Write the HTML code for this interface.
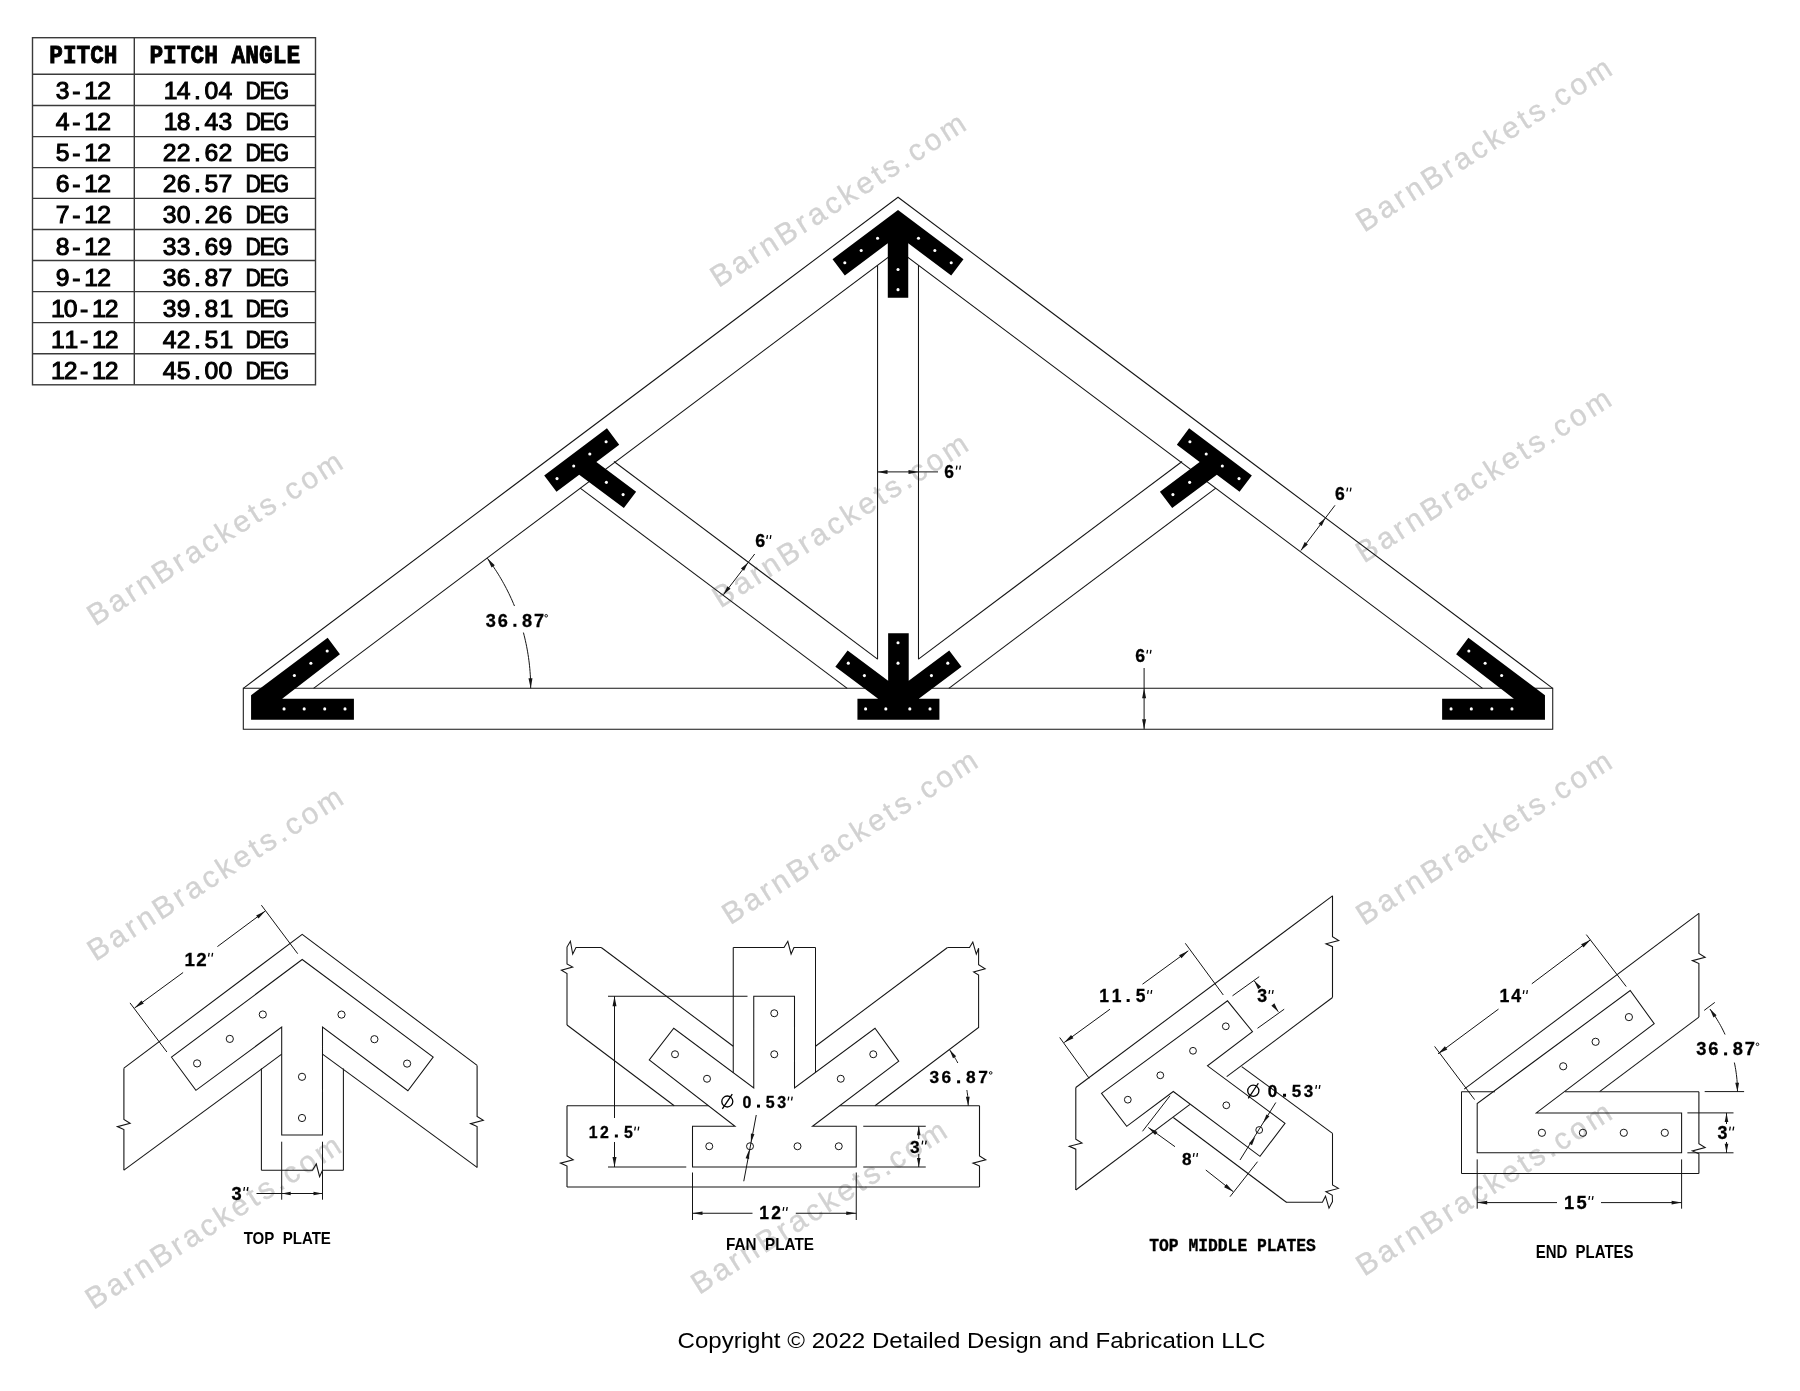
<!DOCTYPE html>
<html><head><meta charset="utf-8"><style>
html,body{margin:0;padding:0;background:#fff;width:1800px;height:1391px;overflow:hidden}
svg{display:block;font-family:"Liberation Sans",sans-serif;will-change:transform}
</style></head><body>
<svg width="1800" height="1391" viewBox="0 0 1800 1391">
<rect width="1800" height="1391" fill="#fff"/>
<g><text x="0" y="0" transform="translate(839.1,198.7) rotate(-32.5)" text-anchor="middle" dominant-baseline="central" font-family="Liberation Sans" font-size="30" letter-spacing="3.4" fill="#d2d2d2" stroke="#d2d2d2" stroke-width="0.35">BarnBrackets.com</text>
<text x="0" y="0" transform="translate(1485,143.35) rotate(-32.5)" text-anchor="middle" dominant-baseline="central" font-family="Liberation Sans" font-size="30" letter-spacing="3.4" fill="#d2d2d2" stroke="#d2d2d2" stroke-width="0.35">BarnBrackets.com</text>
<text x="0" y="0" transform="translate(215.85,537.1) rotate(-32.5)" text-anchor="middle" dominant-baseline="central" font-family="Liberation Sans" font-size="30" letter-spacing="3.4" fill="#d2d2d2" stroke="#d2d2d2" stroke-width="0.35">BarnBrackets.com</text>
<text x="0" y="0" transform="translate(841.25,519.2) rotate(-32.5)" text-anchor="middle" dominant-baseline="central" font-family="Liberation Sans" font-size="30" letter-spacing="3.4" fill="#d2d2d2" stroke="#d2d2d2" stroke-width="0.35">BarnBrackets.com</text>
<text x="0" y="0" transform="translate(1484.55,474.2) rotate(-32.5)" text-anchor="middle" dominant-baseline="central" font-family="Liberation Sans" font-size="30" letter-spacing="3.4" fill="#d2d2d2" stroke="#d2d2d2" stroke-width="0.35">BarnBrackets.com</text>
<text x="0" y="0" transform="translate(216.25,872.5) rotate(-32.5)" text-anchor="middle" dominant-baseline="central" font-family="Liberation Sans" font-size="30" letter-spacing="3.4" fill="#d2d2d2" stroke="#d2d2d2" stroke-width="0.35">BarnBrackets.com</text>
<text x="0" y="0" transform="translate(850.85,835.85) rotate(-32.5)" text-anchor="middle" dominant-baseline="central" font-family="Liberation Sans" font-size="30" letter-spacing="3.4" fill="#d2d2d2" stroke="#d2d2d2" stroke-width="0.35">BarnBrackets.com</text>
<text x="0" y="0" transform="translate(1485,836.65) rotate(-32.5)" text-anchor="middle" dominant-baseline="central" font-family="Liberation Sans" font-size="30" letter-spacing="3.4" fill="#d2d2d2" stroke="#d2d2d2" stroke-width="0.35">BarnBrackets.com</text>
<text x="0" y="0" transform="translate(214.15,1220.8) rotate(-32.5)" text-anchor="middle" dominant-baseline="central" font-family="Liberation Sans" font-size="30" letter-spacing="3.4" fill="#d2d2d2" stroke="#d2d2d2" stroke-width="0.35">BarnBrackets.com</text>
<text x="0" y="0" transform="translate(820,1205.8) rotate(-32.5)" text-anchor="middle" dominant-baseline="central" font-family="Liberation Sans" font-size="30" letter-spacing="3.4" fill="#d2d2d2" stroke="#d2d2d2" stroke-width="0.35">BarnBrackets.com</text>
<text x="0" y="0" transform="translate(1485,1187.5) rotate(-32.5)" text-anchor="middle" dominant-baseline="central" font-family="Liberation Sans" font-size="30" letter-spacing="3.4" fill="#d2d2d2" stroke="#d2d2d2" stroke-width="0.35">BarnBrackets.com</text></g>
<g><rect x="32.5" y="37.7" width="283" height="347.1" fill="none" stroke="#3a3a3a" stroke-width="1.4"/>
<line x1="134.3" y1="37.7" x2="134.3" y2="384.8" stroke="#3a3a3a" stroke-width="1.4"/>
<line x1="32.5" y1="74.2" x2="315.5" y2="74.2" stroke="#3a3a3a" stroke-width="1.4"/>
<line x1="32.5" y1="105.5" x2="315.5" y2="105.5" stroke="#3a3a3a" stroke-width="1.4"/>
<line x1="32.5" y1="136.6" x2="315.5" y2="136.6" stroke="#3a3a3a" stroke-width="1.4"/>
<line x1="32.5" y1="167.6" x2="315.5" y2="167.6" stroke="#3a3a3a" stroke-width="1.4"/>
<line x1="32.5" y1="198.4" x2="315.5" y2="198.4" stroke="#3a3a3a" stroke-width="1.4"/>
<line x1="32.5" y1="229.5" x2="315.5" y2="229.5" stroke="#3a3a3a" stroke-width="1.4"/>
<line x1="32.5" y1="260.5" x2="315.5" y2="260.5" stroke="#3a3a3a" stroke-width="1.4"/>
<line x1="32.5" y1="291.6" x2="315.5" y2="291.6" stroke="#3a3a3a" stroke-width="1.4"/>
<line x1="32.5" y1="322.6" x2="315.5" y2="322.6" stroke="#3a3a3a" stroke-width="1.4"/>
<line x1="32.5" y1="353.7" x2="315.5" y2="353.7" stroke="#3a3a3a" stroke-width="1.4"/>
<text x="49.3" y="63.3" font-family="Liberation Mono" font-weight="bold" font-size="25.2" textLength="68.2" lengthAdjust="spacingAndGlyphs" fill="#000" stroke="#000" stroke-width="0.9">PITCH</text>
<text x="149.4" y="63.3" font-family="Liberation Mono" font-weight="bold" font-size="25.2" textLength="150.7" lengthAdjust="spacingAndGlyphs" fill="#000" stroke="#000" stroke-width="0.9">PITCH ANGLE</text>
<text x="62.5" y="99.2" text-anchor="middle" font-family="Liberation Sans" font-weight="normal" font-size="24.71" fill="#000" stroke="#000" stroke-width="1.0">3</text>
<text x="76.4" y="99.2" text-anchor="middle" font-family="Liberation Sans" font-weight="normal" font-size="24.71" fill="#000" stroke="#000" stroke-width="1.0">-</text>
<text x="91.2" y="99.2" text-anchor="middle" font-family="Liberation Sans" font-weight="normal" font-size="24.71" fill="#000" stroke="#000" stroke-width="1.0">1</text>
<text x="104.2" y="99.2" text-anchor="middle" font-family="Liberation Sans" font-weight="normal" font-size="24.71" fill="#000" stroke="#000" stroke-width="1.0">2</text>
<text x="170.6" y="99.2" text-anchor="middle" font-family="Liberation Sans" font-weight="normal" font-size="24.71" fill="#000" stroke="#000" stroke-width="1.0">1</text>
<text x="183.63" y="99.2" text-anchor="middle" font-family="Liberation Sans" font-weight="normal" font-size="24.71" fill="#000" stroke="#000" stroke-width="1.0">4</text>
<text x="197.56" y="99.2" text-anchor="middle" font-family="Liberation Sans" font-weight="normal" font-size="24.71" fill="#000" stroke="#000" stroke-width="1.0">.</text>
<text x="211.49" y="99.2" text-anchor="middle" font-family="Liberation Sans" font-weight="normal" font-size="24.71" fill="#000" stroke="#000" stroke-width="1.0">0</text>
<text x="225.42" y="99.2" text-anchor="middle" font-family="Liberation Sans" font-weight="normal" font-size="24.71" fill="#000" stroke="#000" stroke-width="1.0">4</text>
<text x="245.53" y="99.2" font-family="Liberation Sans" font-weight="normal" font-size="24.71" fill="#000" stroke="#000" stroke-width="1.0" textLength="15.5" lengthAdjust="spacingAndGlyphs">D</text>
<text x="259.46" y="99.2" font-family="Liberation Sans" font-weight="normal" font-size="24.71" fill="#000" stroke="#000" stroke-width="1.0" textLength="15.5" lengthAdjust="spacingAndGlyphs">E</text>
<text x="273.39" y="99.2" font-family="Liberation Sans" font-weight="normal" font-size="24.71" fill="#000" stroke="#000" stroke-width="1.0" textLength="15.5" lengthAdjust="spacingAndGlyphs">G</text>
<text x="62.5" y="130.27" text-anchor="middle" font-family="Liberation Sans" font-weight="normal" font-size="24.71" fill="#000" stroke="#000" stroke-width="1.0">4</text>
<text x="76.4" y="130.27" text-anchor="middle" font-family="Liberation Sans" font-weight="normal" font-size="24.71" fill="#000" stroke="#000" stroke-width="1.0">-</text>
<text x="91.2" y="130.27" text-anchor="middle" font-family="Liberation Sans" font-weight="normal" font-size="24.71" fill="#000" stroke="#000" stroke-width="1.0">1</text>
<text x="104.2" y="130.27" text-anchor="middle" font-family="Liberation Sans" font-weight="normal" font-size="24.71" fill="#000" stroke="#000" stroke-width="1.0">2</text>
<text x="170.6" y="130.27" text-anchor="middle" font-family="Liberation Sans" font-weight="normal" font-size="24.71" fill="#000" stroke="#000" stroke-width="1.0">1</text>
<text x="183.63" y="130.27" text-anchor="middle" font-family="Liberation Sans" font-weight="normal" font-size="24.71" fill="#000" stroke="#000" stroke-width="1.0">8</text>
<text x="197.56" y="130.27" text-anchor="middle" font-family="Liberation Sans" font-weight="normal" font-size="24.71" fill="#000" stroke="#000" stroke-width="1.0">.</text>
<text x="211.49" y="130.27" text-anchor="middle" font-family="Liberation Sans" font-weight="normal" font-size="24.71" fill="#000" stroke="#000" stroke-width="1.0">4</text>
<text x="225.42" y="130.27" text-anchor="middle" font-family="Liberation Sans" font-weight="normal" font-size="24.71" fill="#000" stroke="#000" stroke-width="1.0">3</text>
<text x="245.53" y="130.27" font-family="Liberation Sans" font-weight="normal" font-size="24.71" fill="#000" stroke="#000" stroke-width="1.0" textLength="15.5" lengthAdjust="spacingAndGlyphs">D</text>
<text x="259.46" y="130.27" font-family="Liberation Sans" font-weight="normal" font-size="24.71" fill="#000" stroke="#000" stroke-width="1.0" textLength="15.5" lengthAdjust="spacingAndGlyphs">E</text>
<text x="273.39" y="130.27" font-family="Liberation Sans" font-weight="normal" font-size="24.71" fill="#000" stroke="#000" stroke-width="1.0" textLength="15.5" lengthAdjust="spacingAndGlyphs">G</text>
<text x="62.5" y="161.34" text-anchor="middle" font-family="Liberation Sans" font-weight="normal" font-size="24.71" fill="#000" stroke="#000" stroke-width="1.0">5</text>
<text x="76.4" y="161.34" text-anchor="middle" font-family="Liberation Sans" font-weight="normal" font-size="24.71" fill="#000" stroke="#000" stroke-width="1.0">-</text>
<text x="91.2" y="161.34" text-anchor="middle" font-family="Liberation Sans" font-weight="normal" font-size="24.71" fill="#000" stroke="#000" stroke-width="1.0">1</text>
<text x="104.2" y="161.34" text-anchor="middle" font-family="Liberation Sans" font-weight="normal" font-size="24.71" fill="#000" stroke="#000" stroke-width="1.0">2</text>
<text x="169.7" y="161.34" text-anchor="middle" font-family="Liberation Sans" font-weight="normal" font-size="24.71" fill="#000" stroke="#000" stroke-width="1.0">2</text>
<text x="183.63" y="161.34" text-anchor="middle" font-family="Liberation Sans" font-weight="normal" font-size="24.71" fill="#000" stroke="#000" stroke-width="1.0">2</text>
<text x="197.56" y="161.34" text-anchor="middle" font-family="Liberation Sans" font-weight="normal" font-size="24.71" fill="#000" stroke="#000" stroke-width="1.0">.</text>
<text x="211.49" y="161.34" text-anchor="middle" font-family="Liberation Sans" font-weight="normal" font-size="24.71" fill="#000" stroke="#000" stroke-width="1.0">6</text>
<text x="225.42" y="161.34" text-anchor="middle" font-family="Liberation Sans" font-weight="normal" font-size="24.71" fill="#000" stroke="#000" stroke-width="1.0">2</text>
<text x="245.53" y="161.34" font-family="Liberation Sans" font-weight="normal" font-size="24.71" fill="#000" stroke="#000" stroke-width="1.0" textLength="15.5" lengthAdjust="spacingAndGlyphs">D</text>
<text x="259.46" y="161.34" font-family="Liberation Sans" font-weight="normal" font-size="24.71" fill="#000" stroke="#000" stroke-width="1.0" textLength="15.5" lengthAdjust="spacingAndGlyphs">E</text>
<text x="273.39" y="161.34" font-family="Liberation Sans" font-weight="normal" font-size="24.71" fill="#000" stroke="#000" stroke-width="1.0" textLength="15.5" lengthAdjust="spacingAndGlyphs">G</text>
<text x="62.5" y="192.41" text-anchor="middle" font-family="Liberation Sans" font-weight="normal" font-size="24.71" fill="#000" stroke="#000" stroke-width="1.0">6</text>
<text x="76.4" y="192.41" text-anchor="middle" font-family="Liberation Sans" font-weight="normal" font-size="24.71" fill="#000" stroke="#000" stroke-width="1.0">-</text>
<text x="91.2" y="192.41" text-anchor="middle" font-family="Liberation Sans" font-weight="normal" font-size="24.71" fill="#000" stroke="#000" stroke-width="1.0">1</text>
<text x="104.2" y="192.41" text-anchor="middle" font-family="Liberation Sans" font-weight="normal" font-size="24.71" fill="#000" stroke="#000" stroke-width="1.0">2</text>
<text x="169.7" y="192.41" text-anchor="middle" font-family="Liberation Sans" font-weight="normal" font-size="24.71" fill="#000" stroke="#000" stroke-width="1.0">2</text>
<text x="183.63" y="192.41" text-anchor="middle" font-family="Liberation Sans" font-weight="normal" font-size="24.71" fill="#000" stroke="#000" stroke-width="1.0">6</text>
<text x="197.56" y="192.41" text-anchor="middle" font-family="Liberation Sans" font-weight="normal" font-size="24.71" fill="#000" stroke="#000" stroke-width="1.0">.</text>
<text x="211.49" y="192.41" text-anchor="middle" font-family="Liberation Sans" font-weight="normal" font-size="24.71" fill="#000" stroke="#000" stroke-width="1.0">5</text>
<text x="225.42" y="192.41" text-anchor="middle" font-family="Liberation Sans" font-weight="normal" font-size="24.71" fill="#000" stroke="#000" stroke-width="1.0">7</text>
<text x="245.53" y="192.41" font-family="Liberation Sans" font-weight="normal" font-size="24.71" fill="#000" stroke="#000" stroke-width="1.0" textLength="15.5" lengthAdjust="spacingAndGlyphs">D</text>
<text x="259.46" y="192.41" font-family="Liberation Sans" font-weight="normal" font-size="24.71" fill="#000" stroke="#000" stroke-width="1.0" textLength="15.5" lengthAdjust="spacingAndGlyphs">E</text>
<text x="273.39" y="192.41" font-family="Liberation Sans" font-weight="normal" font-size="24.71" fill="#000" stroke="#000" stroke-width="1.0" textLength="15.5" lengthAdjust="spacingAndGlyphs">G</text>
<text x="62.5" y="223.48" text-anchor="middle" font-family="Liberation Sans" font-weight="normal" font-size="24.71" fill="#000" stroke="#000" stroke-width="1.0">7</text>
<text x="76.4" y="223.48" text-anchor="middle" font-family="Liberation Sans" font-weight="normal" font-size="24.71" fill="#000" stroke="#000" stroke-width="1.0">-</text>
<text x="91.2" y="223.48" text-anchor="middle" font-family="Liberation Sans" font-weight="normal" font-size="24.71" fill="#000" stroke="#000" stroke-width="1.0">1</text>
<text x="104.2" y="223.48" text-anchor="middle" font-family="Liberation Sans" font-weight="normal" font-size="24.71" fill="#000" stroke="#000" stroke-width="1.0">2</text>
<text x="169.7" y="223.48" text-anchor="middle" font-family="Liberation Sans" font-weight="normal" font-size="24.71" fill="#000" stroke="#000" stroke-width="1.0">3</text>
<text x="183.63" y="223.48" text-anchor="middle" font-family="Liberation Sans" font-weight="normal" font-size="24.71" fill="#000" stroke="#000" stroke-width="1.0">0</text>
<text x="197.56" y="223.48" text-anchor="middle" font-family="Liberation Sans" font-weight="normal" font-size="24.71" fill="#000" stroke="#000" stroke-width="1.0">.</text>
<text x="211.49" y="223.48" text-anchor="middle" font-family="Liberation Sans" font-weight="normal" font-size="24.71" fill="#000" stroke="#000" stroke-width="1.0">2</text>
<text x="225.42" y="223.48" text-anchor="middle" font-family="Liberation Sans" font-weight="normal" font-size="24.71" fill="#000" stroke="#000" stroke-width="1.0">6</text>
<text x="245.53" y="223.48" font-family="Liberation Sans" font-weight="normal" font-size="24.71" fill="#000" stroke="#000" stroke-width="1.0" textLength="15.5" lengthAdjust="spacingAndGlyphs">D</text>
<text x="259.46" y="223.48" font-family="Liberation Sans" font-weight="normal" font-size="24.71" fill="#000" stroke="#000" stroke-width="1.0" textLength="15.5" lengthAdjust="spacingAndGlyphs">E</text>
<text x="273.39" y="223.48" font-family="Liberation Sans" font-weight="normal" font-size="24.71" fill="#000" stroke="#000" stroke-width="1.0" textLength="15.5" lengthAdjust="spacingAndGlyphs">G</text>
<text x="62.5" y="254.55" text-anchor="middle" font-family="Liberation Sans" font-weight="normal" font-size="24.71" fill="#000" stroke="#000" stroke-width="1.0">8</text>
<text x="76.4" y="254.55" text-anchor="middle" font-family="Liberation Sans" font-weight="normal" font-size="24.71" fill="#000" stroke="#000" stroke-width="1.0">-</text>
<text x="91.2" y="254.55" text-anchor="middle" font-family="Liberation Sans" font-weight="normal" font-size="24.71" fill="#000" stroke="#000" stroke-width="1.0">1</text>
<text x="104.2" y="254.55" text-anchor="middle" font-family="Liberation Sans" font-weight="normal" font-size="24.71" fill="#000" stroke="#000" stroke-width="1.0">2</text>
<text x="169.7" y="254.55" text-anchor="middle" font-family="Liberation Sans" font-weight="normal" font-size="24.71" fill="#000" stroke="#000" stroke-width="1.0">3</text>
<text x="183.63" y="254.55" text-anchor="middle" font-family="Liberation Sans" font-weight="normal" font-size="24.71" fill="#000" stroke="#000" stroke-width="1.0">3</text>
<text x="197.56" y="254.55" text-anchor="middle" font-family="Liberation Sans" font-weight="normal" font-size="24.71" fill="#000" stroke="#000" stroke-width="1.0">.</text>
<text x="211.49" y="254.55" text-anchor="middle" font-family="Liberation Sans" font-weight="normal" font-size="24.71" fill="#000" stroke="#000" stroke-width="1.0">6</text>
<text x="225.42" y="254.55" text-anchor="middle" font-family="Liberation Sans" font-weight="normal" font-size="24.71" fill="#000" stroke="#000" stroke-width="1.0">9</text>
<text x="245.53" y="254.55" font-family="Liberation Sans" font-weight="normal" font-size="24.71" fill="#000" stroke="#000" stroke-width="1.0" textLength="15.5" lengthAdjust="spacingAndGlyphs">D</text>
<text x="259.46" y="254.55" font-family="Liberation Sans" font-weight="normal" font-size="24.71" fill="#000" stroke="#000" stroke-width="1.0" textLength="15.5" lengthAdjust="spacingAndGlyphs">E</text>
<text x="273.39" y="254.55" font-family="Liberation Sans" font-weight="normal" font-size="24.71" fill="#000" stroke="#000" stroke-width="1.0" textLength="15.5" lengthAdjust="spacingAndGlyphs">G</text>
<text x="62.5" y="285.62" text-anchor="middle" font-family="Liberation Sans" font-weight="normal" font-size="24.71" fill="#000" stroke="#000" stroke-width="1.0">9</text>
<text x="76.4" y="285.62" text-anchor="middle" font-family="Liberation Sans" font-weight="normal" font-size="24.71" fill="#000" stroke="#000" stroke-width="1.0">-</text>
<text x="91.2" y="285.62" text-anchor="middle" font-family="Liberation Sans" font-weight="normal" font-size="24.71" fill="#000" stroke="#000" stroke-width="1.0">1</text>
<text x="104.2" y="285.62" text-anchor="middle" font-family="Liberation Sans" font-weight="normal" font-size="24.71" fill="#000" stroke="#000" stroke-width="1.0">2</text>
<text x="169.7" y="285.62" text-anchor="middle" font-family="Liberation Sans" font-weight="normal" font-size="24.71" fill="#000" stroke="#000" stroke-width="1.0">3</text>
<text x="183.63" y="285.62" text-anchor="middle" font-family="Liberation Sans" font-weight="normal" font-size="24.71" fill="#000" stroke="#000" stroke-width="1.0">6</text>
<text x="197.56" y="285.62" text-anchor="middle" font-family="Liberation Sans" font-weight="normal" font-size="24.71" fill="#000" stroke="#000" stroke-width="1.0">.</text>
<text x="211.49" y="285.62" text-anchor="middle" font-family="Liberation Sans" font-weight="normal" font-size="24.71" fill="#000" stroke="#000" stroke-width="1.0">8</text>
<text x="225.42" y="285.62" text-anchor="middle" font-family="Liberation Sans" font-weight="normal" font-size="24.71" fill="#000" stroke="#000" stroke-width="1.0">7</text>
<text x="245.53" y="285.62" font-family="Liberation Sans" font-weight="normal" font-size="24.71" fill="#000" stroke="#000" stroke-width="1.0" textLength="15.5" lengthAdjust="spacingAndGlyphs">D</text>
<text x="259.46" y="285.62" font-family="Liberation Sans" font-weight="normal" font-size="24.71" fill="#000" stroke="#000" stroke-width="1.0" textLength="15.5" lengthAdjust="spacingAndGlyphs">E</text>
<text x="273.39" y="285.62" font-family="Liberation Sans" font-weight="normal" font-size="24.71" fill="#000" stroke="#000" stroke-width="1.0" textLength="15.5" lengthAdjust="spacingAndGlyphs">G</text>
<text x="57.8" y="316.69" text-anchor="middle" font-family="Liberation Sans" font-weight="normal" font-size="24.71" fill="#000" stroke="#000" stroke-width="1.0">1</text>
<text x="70.55" y="316.69" text-anchor="middle" font-family="Liberation Sans" font-weight="normal" font-size="24.71" fill="#000" stroke="#000" stroke-width="1.0">0</text>
<text x="84.2" y="316.69" text-anchor="middle" font-family="Liberation Sans" font-weight="normal" font-size="24.71" fill="#000" stroke="#000" stroke-width="1.0">-</text>
<text x="98.75" y="316.69" text-anchor="middle" font-family="Liberation Sans" font-weight="normal" font-size="24.71" fill="#000" stroke="#000" stroke-width="1.0">1</text>
<text x="111.5" y="316.69" text-anchor="middle" font-family="Liberation Sans" font-weight="normal" font-size="24.71" fill="#000" stroke="#000" stroke-width="1.0">2</text>
<text x="169.7" y="316.69" text-anchor="middle" font-family="Liberation Sans" font-weight="normal" font-size="24.71" fill="#000" stroke="#000" stroke-width="1.0">3</text>
<text x="183.63" y="316.69" text-anchor="middle" font-family="Liberation Sans" font-weight="normal" font-size="24.71" fill="#000" stroke="#000" stroke-width="1.0">9</text>
<text x="197.56" y="316.69" text-anchor="middle" font-family="Liberation Sans" font-weight="normal" font-size="24.71" fill="#000" stroke="#000" stroke-width="1.0">.</text>
<text x="211.49" y="316.69" text-anchor="middle" font-family="Liberation Sans" font-weight="normal" font-size="24.71" fill="#000" stroke="#000" stroke-width="1.0">8</text>
<text x="226.32" y="316.69" text-anchor="middle" font-family="Liberation Sans" font-weight="normal" font-size="24.71" fill="#000" stroke="#000" stroke-width="1.0">1</text>
<text x="245.53" y="316.69" font-family="Liberation Sans" font-weight="normal" font-size="24.71" fill="#000" stroke="#000" stroke-width="1.0" textLength="15.5" lengthAdjust="spacingAndGlyphs">D</text>
<text x="259.46" y="316.69" font-family="Liberation Sans" font-weight="normal" font-size="24.71" fill="#000" stroke="#000" stroke-width="1.0" textLength="15.5" lengthAdjust="spacingAndGlyphs">E</text>
<text x="273.39" y="316.69" font-family="Liberation Sans" font-weight="normal" font-size="24.71" fill="#000" stroke="#000" stroke-width="1.0" textLength="15.5" lengthAdjust="spacingAndGlyphs">G</text>
<text x="57.8" y="347.76" text-anchor="middle" font-family="Liberation Sans" font-weight="normal" font-size="24.71" fill="#000" stroke="#000" stroke-width="1.0">1</text>
<text x="71.45" y="347.76" text-anchor="middle" font-family="Liberation Sans" font-weight="normal" font-size="24.71" fill="#000" stroke="#000" stroke-width="1.0">1</text>
<text x="84.2" y="347.76" text-anchor="middle" font-family="Liberation Sans" font-weight="normal" font-size="24.71" fill="#000" stroke="#000" stroke-width="1.0">-</text>
<text x="98.75" y="347.76" text-anchor="middle" font-family="Liberation Sans" font-weight="normal" font-size="24.71" fill="#000" stroke="#000" stroke-width="1.0">1</text>
<text x="111.5" y="347.76" text-anchor="middle" font-family="Liberation Sans" font-weight="normal" font-size="24.71" fill="#000" stroke="#000" stroke-width="1.0">2</text>
<text x="169.7" y="347.76" text-anchor="middle" font-family="Liberation Sans" font-weight="normal" font-size="24.71" fill="#000" stroke="#000" stroke-width="1.0">4</text>
<text x="183.63" y="347.76" text-anchor="middle" font-family="Liberation Sans" font-weight="normal" font-size="24.71" fill="#000" stroke="#000" stroke-width="1.0">2</text>
<text x="197.56" y="347.76" text-anchor="middle" font-family="Liberation Sans" font-weight="normal" font-size="24.71" fill="#000" stroke="#000" stroke-width="1.0">.</text>
<text x="211.49" y="347.76" text-anchor="middle" font-family="Liberation Sans" font-weight="normal" font-size="24.71" fill="#000" stroke="#000" stroke-width="1.0">5</text>
<text x="226.32" y="347.76" text-anchor="middle" font-family="Liberation Sans" font-weight="normal" font-size="24.71" fill="#000" stroke="#000" stroke-width="1.0">1</text>
<text x="245.53" y="347.76" font-family="Liberation Sans" font-weight="normal" font-size="24.71" fill="#000" stroke="#000" stroke-width="1.0" textLength="15.5" lengthAdjust="spacingAndGlyphs">D</text>
<text x="259.46" y="347.76" font-family="Liberation Sans" font-weight="normal" font-size="24.71" fill="#000" stroke="#000" stroke-width="1.0" textLength="15.5" lengthAdjust="spacingAndGlyphs">E</text>
<text x="273.39" y="347.76" font-family="Liberation Sans" font-weight="normal" font-size="24.71" fill="#000" stroke="#000" stroke-width="1.0" textLength="15.5" lengthAdjust="spacingAndGlyphs">G</text>
<text x="57.8" y="378.83" text-anchor="middle" font-family="Liberation Sans" font-weight="normal" font-size="24.71" fill="#000" stroke="#000" stroke-width="1.0">1</text>
<text x="70.55" y="378.83" text-anchor="middle" font-family="Liberation Sans" font-weight="normal" font-size="24.71" fill="#000" stroke="#000" stroke-width="1.0">2</text>
<text x="84.2" y="378.83" text-anchor="middle" font-family="Liberation Sans" font-weight="normal" font-size="24.71" fill="#000" stroke="#000" stroke-width="1.0">-</text>
<text x="98.75" y="378.83" text-anchor="middle" font-family="Liberation Sans" font-weight="normal" font-size="24.71" fill="#000" stroke="#000" stroke-width="1.0">1</text>
<text x="111.5" y="378.83" text-anchor="middle" font-family="Liberation Sans" font-weight="normal" font-size="24.71" fill="#000" stroke="#000" stroke-width="1.0">2</text>
<text x="169.7" y="378.83" text-anchor="middle" font-family="Liberation Sans" font-weight="normal" font-size="24.71" fill="#000" stroke="#000" stroke-width="1.0">4</text>
<text x="183.63" y="378.83" text-anchor="middle" font-family="Liberation Sans" font-weight="normal" font-size="24.71" fill="#000" stroke="#000" stroke-width="1.0">5</text>
<text x="197.56" y="378.83" text-anchor="middle" font-family="Liberation Sans" font-weight="normal" font-size="24.71" fill="#000" stroke="#000" stroke-width="1.0">.</text>
<text x="211.49" y="378.83" text-anchor="middle" font-family="Liberation Sans" font-weight="normal" font-size="24.71" fill="#000" stroke="#000" stroke-width="1.0">0</text>
<text x="225.42" y="378.83" text-anchor="middle" font-family="Liberation Sans" font-weight="normal" font-size="24.71" fill="#000" stroke="#000" stroke-width="1.0">0</text>
<text x="245.53" y="378.83" font-family="Liberation Sans" font-weight="normal" font-size="24.71" fill="#000" stroke="#000" stroke-width="1.0" textLength="15.5" lengthAdjust="spacingAndGlyphs">D</text>
<text x="259.46" y="378.83" font-family="Liberation Sans" font-weight="normal" font-size="24.71" fill="#000" stroke="#000" stroke-width="1.0" textLength="15.5" lengthAdjust="spacingAndGlyphs">E</text>
<text x="273.39" y="378.83" font-family="Liberation Sans" font-weight="normal" font-size="24.71" fill="#000" stroke="#000" stroke-width="1.0" textLength="15.5" lengthAdjust="spacingAndGlyphs">G</text>
<polygon points="243.3,688.3 1552.74,688.3 1552.74,729.22 243.3,729.22" fill="none" stroke="#151515" stroke-width="1.05" stroke-linejoin="miter"/>
<polyline points="243.3,688.3 898.02,197.26 1552.74,688.3" fill="none" stroke="#151515" stroke-width="1.05" stroke-linejoin="miter"/>
<polyline points="313.55,688.3 898.02,249.94 1482.49,688.3" fill="none" stroke="#151515" stroke-width="1.05" stroke-linejoin="miter"/>
<line x1="877.56" y1="265.29" x2="877.56" y2="659.14" stroke="#151515" stroke-width="1.05"/>
<line x1="918.48" y1="265.29" x2="918.48" y2="659.14" stroke="#151515" stroke-width="1.05"/>
<line x1="847.21" y1="688.3" x2="580.21" y2="488.06" stroke="#151515" stroke-width="1.05"/>
<line x1="877.56" y1="659.14" x2="613.97" y2="461.47" stroke="#151515" stroke-width="1.05"/>
<line x1="948.83" y1="688.3" x2="1215.83" y2="488.06" stroke="#151515" stroke-width="1.05"/>
<line x1="918.48" y1="659.14" x2="1182.07" y2="461.47" stroke="#151515" stroke-width="1.05"/>
<polygon points="898.02,210.05 832.55,259.15 844.82,275.52 887.79,243.29 887.79,297.85 908.25,297.85 908.25,243.29 951.22,275.52 963.49,259.15" fill="#000"/>
<polygon points="544.2,475.41 606.94,428.36 619.22,444.72 596.37,461.88 636.13,491.68 623.86,508.05 579.18,474.77 556.47,491.78" fill="#000"/>
<polygon points="1251.84,475.41 1189.1,428.36 1176.82,444.72 1199.67,461.88 1159.91,491.68 1172.18,508.05 1216.86,474.77 1239.57,491.78" fill="#000"/>
<polygon points="888.13,633.33 908.73,633.33 908.73,680.8 949.24,650.45 961.51,666.82 918.75,698.87 939.42,698.87 939.42,719.67 857.44,719.67 857.44,698.87 878.11,698.87 835.34,666.82 847.62,650.45 888.13,680.8" fill="#000"/>
<polygon points="251.07,719.67 353.92,719.67 353.92,698.87 282.17,698.87 339.94,654.2 327.66,637.83 251.07,695.26" fill="#000"/>
<polygon points="1544.97,719.67 1442.12,719.67 1442.12,698.87 1513.87,698.87 1456.1,654.2 1468.38,637.83 1544.97,695.26" fill="#000"/>
<circle cx="877.56" cy="238.18" r="1.55" fill="#fff" stroke="none" stroke-width="1.0"/>
<circle cx="861.19" cy="250.46" r="1.55" fill="#fff" stroke="none" stroke-width="1.0"/>
<circle cx="844.82" cy="262.73" r="1.55" fill="#fff" stroke="none" stroke-width="1.0"/>
<circle cx="898.02" cy="269.55" r="1.55" fill="#fff" stroke="none" stroke-width="1.0"/>
<circle cx="898.02" cy="289.67" r="1.55" fill="#fff" stroke="none" stroke-width="1.0"/>
<circle cx="918.48" cy="238.18" r="1.55" fill="#fff" stroke="none" stroke-width="1.0"/>
<circle cx="934.85" cy="250.46" r="1.55" fill="#fff" stroke="none" stroke-width="1.0"/>
<circle cx="951.22" cy="262.73" r="1.55" fill="#fff" stroke="none" stroke-width="1.0"/>
<circle cx="557.02" cy="478.58" r="1.55" fill="#fff" stroke="none" stroke-width="1.0"/>
<circle cx="573.73" cy="466.04" r="1.55" fill="#fff" stroke="none" stroke-width="1.0"/>
<circle cx="589.82" cy="453.96" r="1.55" fill="#fff" stroke="none" stroke-width="1.0"/>
<circle cx="606.12" cy="441.76" r="1.55" fill="#fff" stroke="none" stroke-width="1.0"/>
<circle cx="606.4" cy="482.34" r="1.55" fill="#fff" stroke="none" stroke-width="1.0"/>
<circle cx="623.11" cy="494.61" r="1.55" fill="#fff" stroke="none" stroke-width="1.0"/>
<circle cx="1239.02" cy="478.58" r="1.55" fill="#fff" stroke="none" stroke-width="1.0"/>
<circle cx="1222.31" cy="466.04" r="1.55" fill="#fff" stroke="none" stroke-width="1.0"/>
<circle cx="1206.22" cy="453.96" r="1.55" fill="#fff" stroke="none" stroke-width="1.0"/>
<circle cx="1189.92" cy="441.76" r="1.55" fill="#fff" stroke="none" stroke-width="1.0"/>
<circle cx="1189.64" cy="482.34" r="1.55" fill="#fff" stroke="none" stroke-width="1.0"/>
<circle cx="1172.93" cy="494.61" r="1.55" fill="#fff" stroke="none" stroke-width="1.0"/>
<circle cx="898.02" cy="642.81" r="1.55" fill="#fff" stroke="none" stroke-width="1.0"/>
<circle cx="898.02" cy="663.13" r="1.55" fill="#fff" stroke="none" stroke-width="1.0"/>
<circle cx="848.3" cy="663.13" r="1.55" fill="#fff" stroke="none" stroke-width="1.0"/>
<circle cx="864.4" cy="675.61" r="1.55" fill="#fff" stroke="none" stroke-width="1.0"/>
<circle cx="947.81" cy="663.13" r="1.55" fill="#fff" stroke="none" stroke-width="1.0"/>
<circle cx="931.44" cy="675.61" r="1.55" fill="#fff" stroke="none" stroke-width="1.0"/>
<circle cx="865.62" cy="708.9" r="1.55" fill="#fff" stroke="none" stroke-width="1.0"/>
<circle cx="885.81" cy="708.9" r="1.55" fill="#fff" stroke="none" stroke-width="1.0"/>
<circle cx="909.82" cy="708.9" r="1.55" fill="#fff" stroke="none" stroke-width="1.0"/>
<circle cx="930.01" cy="708.9" r="1.55" fill="#fff" stroke="none" stroke-width="1.0"/>
<circle cx="284.08" cy="708.9" r="1.55" fill="#fff" stroke="none" stroke-width="1.0"/>
<circle cx="304.2" cy="708.9" r="1.55" fill="#fff" stroke="none" stroke-width="1.0"/>
<circle cx="324.73" cy="708.9" r="1.55" fill="#fff" stroke="none" stroke-width="1.0"/>
<circle cx="344.99" cy="708.9" r="1.55" fill="#fff" stroke="none" stroke-width="1.0"/>
<circle cx="294.38" cy="675.55" r="1.55" fill="#fff" stroke="none" stroke-width="1.0"/>
<circle cx="310.89" cy="663.2" r="1.55" fill="#fff" stroke="none" stroke-width="1.0"/>
<circle cx="327.19" cy="650.96" r="1.55" fill="#fff" stroke="none" stroke-width="1.0"/>
<circle cx="1511.96" cy="708.9" r="1.55" fill="#fff" stroke="none" stroke-width="1.0"/>
<circle cx="1491.84" cy="708.9" r="1.55" fill="#fff" stroke="none" stroke-width="1.0"/>
<circle cx="1471.31" cy="708.9" r="1.55" fill="#fff" stroke="none" stroke-width="1.0"/>
<circle cx="1451.05" cy="708.9" r="1.55" fill="#fff" stroke="none" stroke-width="1.0"/>
<circle cx="1501.66" cy="675.55" r="1.55" fill="#fff" stroke="none" stroke-width="1.0"/>
<circle cx="1485.15" cy="663.2" r="1.55" fill="#fff" stroke="none" stroke-width="1.0"/>
<circle cx="1468.85" cy="650.96" r="1.55" fill="#fff" stroke="none" stroke-width="1.0"/>
<line x1="877.5" y1="471.9" x2="938" y2="471.9" stroke="#151515" stroke-width="1.0"/>
<polygon points="877.5,471.9 887.5,469.9 887.5,473.9" fill="#151515"/>
<polygon points="918.5,471.9 908.5,473.9 908.5,469.9" fill="#151515"/>
<text x="949.2" y="477.7" text-anchor="middle" font-family="Liberation Sans" font-weight="bold" font-size="17.44" fill="#000" stroke="#000" stroke-width="0.3">6</text>
<line x1="956.3" y1="469.6" x2="957" y2="465.7" stroke="#000" stroke-width="1.3"/>
<line x1="959.7" y1="469.6" x2="960.4" y2="465.7" stroke="#000" stroke-width="1.3"/>
<line x1="723.5" y1="594.6" x2="754.7" y2="554" stroke="#151515" stroke-width="1.0"/>
<polygon points="723.5,594.6 727.4,586.25 730.57,588.69" fill="#151515"/>
<polygon points="748,562.5 744.1,570.85 740.93,568.41" fill="#151515"/>
<text x="760.1" y="547.4" text-anchor="middle" font-family="Liberation Sans" font-weight="bold" font-size="17.88" fill="#000" stroke="#000" stroke-width="0.3">6</text>
<line x1="766.8" y1="539" x2="767.5" y2="535.1" stroke="#000" stroke-width="1.3"/>
<line x1="770.2" y1="539" x2="770.9" y2="535.1" stroke="#000" stroke-width="1.3"/>
<line x1="1300.9" y1="550.5" x2="1335" y2="505.3" stroke="#151515" stroke-width="1.0"/>
<polygon points="1300.9,550.5 1304.7,542.1 1307.9,544.5" fill="#151515"/>
<polygon points="1325.5,517.7 1321.7,526.1 1318.5,523.7" fill="#151515"/>
<text x="1339.8" y="499.7" text-anchor="middle" font-family="Liberation Sans" font-weight="bold" font-size="17.59" fill="#000" stroke="#000" stroke-width="0.3">6</text>
<line x1="1346.9" y1="491.5" x2="1347.6" y2="487.6" stroke="#000" stroke-width="1.3"/>
<line x1="1350.3" y1="491.5" x2="1351" y2="487.6" stroke="#000" stroke-width="1.3"/>
<line x1="1144.1" y1="668" x2="1144.1" y2="729.2" stroke="#151515" stroke-width="1.0"/>
<polygon points="1144.1,688.3 1146.1,698.3 1142.1,698.3" fill="#151515"/>
<polygon points="1144.1,729.2 1142.1,719.2 1146.1,719.2" fill="#151515"/>
<text x="1140.3" y="662" text-anchor="middle" font-family="Liberation Sans" font-weight="bold" font-size="17.73" fill="#000" stroke="#000" stroke-width="0.3">6</text>
<line x1="1146.9" y1="653.7" x2="1147.6" y2="649.8" stroke="#000" stroke-width="1.3"/>
<line x1="1150.3" y1="653.7" x2="1151" y2="649.8" stroke="#000" stroke-width="1.3"/>
<polyline points="530.7,688.3 530.68,685.48 530.63,682.66 530.54,679.85 530.41,677.03 530.24,674.21 530.04,671.4 529.8,668.59 529.53,665.79 529.22,662.99 528.87,660.19 528.49,657.4 528.07,654.61 527.61,651.83 527.12,649.05 526.59,646.28 526.03,643.52 525.42,640.77 524.79,638.02 524.12,635.28 523.41,632.55" fill="none" stroke="#151515" stroke-width="1.0" stroke-linejoin="miter"/>
<polyline points="514.49,606.03 513.42,603.49 512.33,600.96 511.2,598.44 510.04,595.94 508.85,593.46 507.63,590.99 506.38,588.53 505.1,586.09 503.78,583.67 502.43,581.26 501.06,578.87 499.65,576.5 498.22,574.15 496.75,571.82 495.25,569.5 493.73,567.21 492.17,564.93 490.59,562.67 488.98,560.44 487.34,558.22" fill="none" stroke="#151515" stroke-width="1.0" stroke-linejoin="miter"/>
<polygon points="487.34,558.22 494.79,565.19 491.53,567.52" fill="#151515"/>
<polygon points="530.7,688.3 528.47,678.35 532.47,678.26" fill="#151515"/>
<text x="490.7" y="626.8" text-anchor="middle" font-family="Liberation Sans" font-weight="bold" font-size="18.17" fill="#000" stroke="#000" stroke-width="0.3">3</text>
<text x="502.8" y="626.8" text-anchor="middle" font-family="Liberation Sans" font-weight="bold" font-size="18.17" fill="#000" stroke="#000" stroke-width="0.3">6</text>
<rect x="513.4" y="623.8" width="3" height="3" fill="#000"/>
<text x="527" y="626.8" text-anchor="middle" font-family="Liberation Sans" font-weight="bold" font-size="18.17" fill="#000" stroke="#000" stroke-width="0.3">8</text>
<text x="539.1" y="626.8" text-anchor="middle" font-family="Liberation Sans" font-weight="bold" font-size="18.17" fill="#000" stroke="#000" stroke-width="0.3">7</text>
<circle cx="546.2" cy="615.8" r="1.3" fill="none" stroke="#000" stroke-width="0.9"/>
<polyline points="123.9,1068.2 302.2,934.3 477.1,1065.4" fill="none" stroke="#151515" stroke-width="1.05" stroke-linejoin="miter"/>
<polyline points="123.9,1068.2 123.9,1119.5 130.1,1123.3 117.4,1126.6 123.9,1129.5 123.9,1170.2" fill="none" stroke="#151515" stroke-width="1.1" stroke-linejoin="miter"/>
<polyline points="477.1,1065.4 477.1,1116.5 483.3,1120.3 470.6,1123.6 477.1,1126.5 477.1,1167.4" fill="none" stroke="#151515" stroke-width="1.1" stroke-linejoin="miter"/>
<line x1="123.9" y1="1170.2" x2="281.7" y2="1054.2" stroke="#151515" stroke-width="1.05"/>
<line x1="322.5" y1="1054.2" x2="477.1" y2="1167.4" stroke="#151515" stroke-width="1.05"/>
<line x1="261.4" y1="1068.6" x2="261.4" y2="1170.2" stroke="#151515" stroke-width="1.05"/>
<line x1="343.4" y1="1068.6" x2="343.4" y2="1170.2" stroke="#151515" stroke-width="1.05"/>
<polyline points="261.4,1170.2 312.5,1170.2 316.3,1164 319.6,1176.7 322.5,1170.2 343.4,1170.2" fill="none" stroke="#151515" stroke-width="1.1" stroke-linejoin="miter"/>
<polygon points="302.2,959.5 433.2,1057 407.9,1090.7 322.5,1027.1 322.5,1135 281.7,1135 281.7,1027.1 195.9,1090.3 171.5,1057.2" fill="none" stroke="#151515" stroke-width="1.05" stroke-linejoin="miter"/>
<circle cx="197.1" cy="1063.4" r="3.6" fill="none" stroke="#151515" stroke-width="1.0"/>
<circle cx="229.8" cy="1038.9" r="3.6" fill="none" stroke="#151515" stroke-width="1.0"/>
<circle cx="262.8" cy="1014.5" r="3.6" fill="none" stroke="#151515" stroke-width="1.0"/>
<circle cx="341.5" cy="1014.6" r="3.6" fill="none" stroke="#151515" stroke-width="1.0"/>
<circle cx="374.4" cy="1039.2" r="3.6" fill="none" stroke="#151515" stroke-width="1.0"/>
<circle cx="407.1" cy="1063.6" r="3.6" fill="none" stroke="#151515" stroke-width="1.0"/>
<circle cx="302" cy="1076.8" r="3.6" fill="none" stroke="#151515" stroke-width="1.0"/>
<circle cx="302" cy="1118" r="3.6" fill="none" stroke="#151515" stroke-width="1.0"/>
<line x1="130" y1="1002.9" x2="166.9" y2="1052" stroke="#151515" stroke-width="1.0"/>
<line x1="261.4" y1="905.2" x2="297.7" y2="953.7" stroke="#151515" stroke-width="1.0"/>
<line x1="134.6" y1="1008" x2="183.1" y2="972.5" stroke="#151515" stroke-width="1.0"/>
<line x1="217.4" y1="946.6" x2="265.3" y2="911" stroke="#151515" stroke-width="1.0"/>
<polygon points="134.6,1008 141.4,1000.4 143.8,1003.6" fill="#151515"/>
<polygon points="265.3,911 258.5,918.6 256.1,915.4" fill="#151515"/>
<text x="189.6" y="965.7" text-anchor="middle" font-family="Liberation Sans" font-weight="bold" font-size="18.75" fill="#000" stroke="#000" stroke-width="0.3">1</text>
<text x="201.4" y="965.7" text-anchor="middle" font-family="Liberation Sans" font-weight="bold" font-size="18.75" fill="#000" stroke="#000" stroke-width="0.3">2</text>
<line x1="208.5" y1="956.7" x2="209.2" y2="952.8" stroke="#000" stroke-width="1.3"/>
<line x1="211.9" y1="956.7" x2="212.6" y2="952.8" stroke="#000" stroke-width="1.3"/>
<line x1="281.7" y1="1141.7" x2="281.7" y2="1199.7" stroke="#151515" stroke-width="1.0"/>
<line x1="322.5" y1="1141.7" x2="322.5" y2="1199.7" stroke="#151515" stroke-width="1.0"/>
<line x1="256.5" y1="1193.5" x2="322.5" y2="1193.5" stroke="#151515" stroke-width="1.0"/>
<polygon points="281.7,1193.5 290.7,1191.7 290.7,1195.3" fill="#151515"/>
<polygon points="322.5,1193.5 313.5,1195.3 313.5,1191.7" fill="#151515"/>
<text x="236.7" y="1199.6" text-anchor="middle" font-family="Liberation Sans" font-weight="bold" font-size="18.31" fill="#000" stroke="#000" stroke-width="0.3">3</text>
<line x1="243.8" y1="1190.9" x2="244.5" y2="1187" stroke="#000" stroke-width="1.3"/>
<line x1="247.2" y1="1190.9" x2="247.9" y2="1187" stroke="#000" stroke-width="1.3"/>
<text x="243.7" y="1244" font-family="Liberation Sans" font-weight="bold" font-size="16.28" textLength="87.2" lengthAdjust="spacingAndGlyphs" fill="#000">TOP&#160;&#160;PLATE</text>
<line x1="567" y1="1105.75" x2="708.5" y2="1105.75" stroke="#151515" stroke-width="1.05"/>
<line x1="839.7" y1="1105.75" x2="979.5" y2="1105.75" stroke="#151515" stroke-width="1.05"/>
<line x1="567" y1="1187" x2="979.5" y2="1187" stroke="#151515" stroke-width="1.05"/>
<polyline points="567,1105.75 567,1156 573.2,1159.8 560.5,1163.1 567,1166 567,1187" fill="none" stroke="#151515" stroke-width="1.1" stroke-linejoin="miter"/>
<polyline points="979.5,1105.75 979.5,1156 985.7,1159.8 973,1163.1 979.5,1166 979.5,1187" fill="none" stroke="#151515" stroke-width="1.1" stroke-linejoin="miter"/>
<polyline points="674.25,1105.75 567,1025" fill="none" stroke="#151515" stroke-width="1.05" stroke-linejoin="miter"/>
<polyline points="567,1025 567,973.5 561.4,970.2 572.7,967.1 567,964 567,947.06 570.4,941.2 572.7,954.1 576,947.45 601.25,947.45" fill="none" stroke="#151515" stroke-width="1.05" stroke-linejoin="miter"/>
<line x1="601.25" y1="947.5" x2="733.25" y2="1046.25" stroke="#151515" stroke-width="1.05"/>
<line x1="733.25" y1="947.5" x2="733.25" y2="1072.7" stroke="#151515" stroke-width="1.05"/>
<line x1="815.5" y1="947.5" x2="815.5" y2="1072.7" stroke="#151515" stroke-width="1.05"/>
<polyline points="733.25,947.5 784,947.5 787.8,941.3 791.1,954 794,947.5 815.5,947.5" fill="none" stroke="#151515" stroke-width="1.1" stroke-linejoin="miter"/>
<line x1="947.5" y1="947.5" x2="815.5" y2="1046.25" stroke="#151515" stroke-width="1.05"/>
<polyline points="947.5,947.45 969.5,947.45 972.8,942 976.3,954.1 978.6,948.2 978.6,964.6 985.2,968.85 973.6,972 978.6,975.1 978.6,1027.5 875,1105.75" fill="none" stroke="#151515" stroke-width="1.05" stroke-linejoin="miter"/>
<polygon points="753.75,996.25 794.5,996.25 794.5,1088 875,1028.25 898.75,1061.25 812.5,1126.25 856.25,1126.25 856.25,1167 692.5,1167 692.5,1126.25 735,1126.25 649.25,1060 673.75,1028.25 753.75,1088" fill="none" stroke="#151515" stroke-width="1.05" stroke-linejoin="miter"/>
<circle cx="774.25" cy="1013.25" r="3.5" fill="none" stroke="#151515" stroke-width="1.0"/>
<circle cx="774.25" cy="1054.25" r="3.5" fill="none" stroke="#151515" stroke-width="1.0"/>
<circle cx="675" cy="1054.25" r="3.5" fill="none" stroke="#151515" stroke-width="1.0"/>
<circle cx="707" cy="1078.75" r="3.5" fill="none" stroke="#151515" stroke-width="1.0"/>
<circle cx="873.25" cy="1054.25" r="3.5" fill="none" stroke="#151515" stroke-width="1.0"/>
<circle cx="840.75" cy="1078.75" r="3.5" fill="none" stroke="#151515" stroke-width="1.0"/>
<circle cx="709.25" cy="1146.25" r="3.5" fill="none" stroke="#151515" stroke-width="1.0"/>
<circle cx="750" cy="1146.25" r="3.5" fill="none" stroke="#151515" stroke-width="1.0"/>
<circle cx="797.5" cy="1146.25" r="3.5" fill="none" stroke="#151515" stroke-width="1.0"/>
<circle cx="838.75" cy="1146.25" r="3.5" fill="none" stroke="#151515" stroke-width="1.0"/>
<line x1="608" y1="996.25" x2="747.5" y2="996.25" stroke="#151515" stroke-width="1.0"/>
<line x1="608" y1="1167" x2="686.25" y2="1167" stroke="#151515" stroke-width="1.0"/>
<line x1="614.5" y1="996.25" x2="614.5" y2="1118" stroke="#151515" stroke-width="1.0"/>
<line x1="614.5" y1="1142" x2="614.5" y2="1167" stroke="#151515" stroke-width="1.0"/>
<polygon points="614.5,996.25 616.5,1006.25 612.5,1006.25" fill="#151515"/>
<polygon points="614.5,1167 612.5,1157 616.5,1157" fill="#151515"/>
<text x="593.2" y="1137.5" text-anchor="middle" font-family="Liberation Sans" font-weight="bold" font-size="15.84" fill="#000" stroke="#000" stroke-width="0.3">1</text>
<text x="604.43" y="1137.5" text-anchor="middle" font-family="Liberation Sans" font-weight="bold" font-size="15.84" fill="#000" stroke="#000" stroke-width="0.3">2</text>
<rect x="614.86" y="1134.5" width="3" height="3" fill="#000"/>
<text x="628.29" y="1137.5" text-anchor="middle" font-family="Liberation Sans" font-weight="bold" font-size="15.84" fill="#000" stroke="#000" stroke-width="0.3">5</text>
<line x1="634.7" y1="1130.5" x2="635.4" y2="1126.6" stroke="#000" stroke-width="1.3"/>
<line x1="638.1" y1="1130.5" x2="638.8" y2="1126.6" stroke="#000" stroke-width="1.3"/>
<line x1="863.25" y1="1126.25" x2="925.75" y2="1126.25" stroke="#151515" stroke-width="1.0"/>
<line x1="863.25" y1="1167" x2="925.75" y2="1167" stroke="#151515" stroke-width="1.0"/>
<line x1="918.75" y1="1126.25" x2="918.75" y2="1139" stroke="#151515" stroke-width="1.0"/>
<line x1="918.75" y1="1154" x2="918.75" y2="1167" stroke="#151515" stroke-width="1.0"/>
<polygon points="918.75,1126.25 920.55,1135.25 916.95,1135.25" fill="#151515"/>
<polygon points="918.75,1167 916.95,1158 920.55,1158" fill="#151515"/>
<text x="914.7" y="1152.5" text-anchor="middle" font-family="Liberation Sans" font-weight="bold" font-size="17.3" fill="#000" stroke="#000" stroke-width="0.3">3</text>
<line x1="922.1" y1="1144.5" x2="922.8" y2="1140.6" stroke="#000" stroke-width="1.3"/>
<line x1="925.5" y1="1144.5" x2="926.2" y2="1140.6" stroke="#000" stroke-width="1.3"/>
<polyline points="957.82,1063 957.22,1061.86 956.6,1060.72 955.96,1059.58 955.31,1058.46 954.65,1057.35 953.96,1056.24 953.27,1055.15 952.56,1054.07 951.83,1052.99 951.09,1051.93 950.33,1050.87 949.56,1049.83" fill="none" stroke="#151515" stroke-width="1.0" stroke-linejoin="miter"/>
<polyline points="968.2,1105.75 968.19,1104.44 968.16,1103.12 968.12,1101.81 968.05,1100.49 967.97,1099.18 967.87,1097.87 967.75,1096.56 967.61,1095.25 967.45,1093.95 967.27,1092.64 967.08,1091.34 966.87,1090.05" fill="none" stroke="#151515" stroke-width="1.0" stroke-linejoin="miter"/>
<polygon points="949.56,1049.83 956.16,1056.24 953.01,1058.36" fill="#151515"/>
<polygon points="968.2,1105.75 965.87,1096.85 969.67,1096.67" fill="#151515"/>
<text x="934.2" y="1083.3" text-anchor="middle" font-family="Liberation Sans" font-weight="bold" font-size="17.3" fill="#000" stroke="#000" stroke-width="0.3">3</text>
<text x="946.4" y="1083.3" text-anchor="middle" font-family="Liberation Sans" font-weight="bold" font-size="17.3" fill="#000" stroke="#000" stroke-width="0.3">6</text>
<rect x="957.1" y="1080.3" width="3" height="3" fill="#000"/>
<text x="970.8" y="1083.3" text-anchor="middle" font-family="Liberation Sans" font-weight="bold" font-size="17.3" fill="#000" stroke="#000" stroke-width="0.3">8</text>
<text x="983" y="1083.3" text-anchor="middle" font-family="Liberation Sans" font-weight="bold" font-size="17.3" fill="#000" stroke="#000" stroke-width="0.3">7</text>
<circle cx="990.7" cy="1072.9" r="1.3" fill="none" stroke="#000" stroke-width="0.9"/>
<circle cx="727.3" cy="1101.5" r="5.5" fill="none" stroke="#000" stroke-width="1.3"/>
<line x1="722.35" y1="1108.92" x2="732.25" y2="1094.08" stroke="#000" stroke-width="1.3"/>
<text x="746.9" y="1107.6" text-anchor="middle" font-family="Liberation Sans" font-weight="bold" font-size="15.99" fill="#000" stroke="#000" stroke-width="0.3">0</text>
<rect x="757" y="1104.6" width="3" height="3" fill="#000"/>
<text x="770.1" y="1107.6" text-anchor="middle" font-family="Liberation Sans" font-weight="bold" font-size="15.99" fill="#000" stroke="#000" stroke-width="0.3">5</text>
<text x="781.7" y="1107.6" text-anchor="middle" font-family="Liberation Sans" font-weight="bold" font-size="15.99" fill="#000" stroke="#000" stroke-width="0.3">3</text>
<line x1="788.1" y1="1100.5" x2="788.8" y2="1096.6" stroke="#000" stroke-width="1.3"/>
<line x1="791.5" y1="1100.5" x2="792.2" y2="1096.6" stroke="#000" stroke-width="1.3"/>
<line x1="756.25" y1="1115" x2="743.75" y2="1181.25" stroke="#151515" stroke-width="1.0"/>
<polygon points="750.9,1142.6 750.9,1133.42 754.43,1134.13" fill="#151515"/>
<polygon points="749.1,1149.9 749.1,1159.08 745.57,1158.37" fill="#151515"/>
<line x1="692.5" y1="1172.5" x2="692.5" y2="1220" stroke="#151515" stroke-width="1.0"/>
<line x1="856.25" y1="1172.5" x2="856.25" y2="1220" stroke="#151515" stroke-width="1.0"/>
<line x1="692.5" y1="1213.25" x2="752.5" y2="1213.25" stroke="#151515" stroke-width="1.0"/>
<line x1="795.8" y1="1213.25" x2="856.25" y2="1213.25" stroke="#151515" stroke-width="1.0"/>
<polygon points="692.5,1213.25 702.5,1211.45 702.5,1215.05" fill="#151515"/>
<polygon points="856.25,1213.25 846.25,1215.05 846.25,1211.45" fill="#151515"/>
<text x="764.1" y="1219" text-anchor="middle" font-family="Liberation Sans" font-weight="bold" font-size="17.44" fill="#000" stroke="#000" stroke-width="0.3">1</text>
<text x="776" y="1219" text-anchor="middle" font-family="Liberation Sans" font-weight="bold" font-size="17.44" fill="#000" stroke="#000" stroke-width="0.3">2</text>
<line x1="783.1" y1="1210.9" x2="783.8" y2="1207" stroke="#000" stroke-width="1.3"/>
<line x1="786.5" y1="1210.9" x2="787.2" y2="1207" stroke="#000" stroke-width="1.3"/>
<text x="726.1" y="1250" font-family="Liberation Sans" font-weight="bold" font-size="17.01" textLength="87.8" lengthAdjust="spacingAndGlyphs" fill="#000">FAN&#160;&#160;PLATE</text>
<line x1="1075.8" y1="1087.5" x2="1332.5" y2="895.8" stroke="#151515" stroke-width="1.05"/>
<polyline points="1332.5,895.8 1332.5,936.7 1338.7,940.5 1326,943.8 1332.5,946.7 1332.5,997.5" fill="none" stroke="#151515" stroke-width="1.1" stroke-linejoin="miter"/>
<polyline points="1075.8,1087.5 1075.8,1139.2 1082,1143 1069.3,1146.3 1075.8,1149.2 1075.8,1190" fill="none" stroke="#151515" stroke-width="1.1" stroke-linejoin="miter"/>
<line x1="1075.8" y1="1190" x2="1190" y2="1104.4" stroke="#151515" stroke-width="1.05"/>
<line x1="1332.5" y1="997.5" x2="1226.7" y2="1076.7" stroke="#151515" stroke-width="1.05"/>
<line x1="1173.3" y1="1117.5" x2="1286.7" y2="1202.5" stroke="#151515" stroke-width="1.05"/>
<line x1="1241.7" y1="1066.7" x2="1332.5" y2="1133.3" stroke="#151515" stroke-width="1.05"/>
<polyline points="1332.5,1133.3 1332.5,1184.9 1338.4,1188.4 1325.9,1191.7 1332.3,1195.2 1332.5,1201.6 1329,1208.2 1325.5,1196.2 1322.4,1202.2 1286.4,1202.2" fill="none" stroke="#151515" stroke-width="1.05" stroke-linejoin="miter"/>
<polygon points="1101.5,1093.4 1227.5,1000.8 1252.5,1031.7 1207.5,1065.8 1285,1123.3 1260,1156.3 1173.3,1091.5 1126.7,1126.3" fill="none" stroke="#151515" stroke-width="1.05" stroke-linejoin="miter"/>
<circle cx="1127.8" cy="1099.7" r="3.4" fill="none" stroke="#151515" stroke-width="1.0"/>
<circle cx="1160.3" cy="1075.3" r="3.4" fill="none" stroke="#151515" stroke-width="1.0"/>
<circle cx="1193" cy="1050.8" r="3.4" fill="none" stroke="#151515" stroke-width="1.0"/>
<circle cx="1225.8" cy="1026.3" r="3.4" fill="none" stroke="#151515" stroke-width="1.0"/>
<circle cx="1226.3" cy="1105.3" r="3.4" fill="none" stroke="#151515" stroke-width="1.0"/>
<circle cx="1259.2" cy="1130" r="3.4" fill="none" stroke="#151515" stroke-width="1.0"/>
<line x1="1185.3" y1="943.3" x2="1223.3" y2="995" stroke="#151515" stroke-width="1.0"/>
<line x1="1059.7" y1="1037.5" x2="1089.2" y2="1078.3" stroke="#151515" stroke-width="1.0"/>
<line x1="1064.2" y1="1042.5" x2="1110" y2="1009.2" stroke="#151515" stroke-width="1.0"/>
<line x1="1142.5" y1="984.2" x2="1188.3" y2="950.8" stroke="#151515" stroke-width="1.0"/>
<polygon points="1064.2,1042.5 1071.06,1034.95 1073.44,1038.17" fill="#151515"/>
<polygon points="1188.3,950.8 1181.44,958.35 1179.06,955.13" fill="#151515"/>
<text x="1104.2" y="1002" text-anchor="middle" font-family="Liberation Sans" font-weight="bold" font-size="17.44" fill="#000" stroke="#000" stroke-width="0.3">1</text>
<text x="1116.53" y="1002" text-anchor="middle" font-family="Liberation Sans" font-weight="bold" font-size="17.44" fill="#000" stroke="#000" stroke-width="0.3">1</text>
<rect x="1126.66" y="999" width="3" height="3" fill="#000"/>
<text x="1140.49" y="1002" text-anchor="middle" font-family="Liberation Sans" font-weight="bold" font-size="17.44" fill="#000" stroke="#000" stroke-width="0.3">5</text>
<line x1="1147.6" y1="993.9" x2="1148.3" y2="990" stroke="#000" stroke-width="1.3"/>
<line x1="1151" y1="993.9" x2="1151.7" y2="990" stroke="#000" stroke-width="1.3"/>
<line x1="1232.5" y1="995.8" x2="1259.2" y2="976.7" stroke="#151515" stroke-width="1.0"/>
<line x1="1257.5" y1="1028.3" x2="1284.2" y2="1009.2" stroke="#151515" stroke-width="1.0"/>
<line x1="1254.2" y1="980.8" x2="1258.5" y2="986.5" stroke="#151515" stroke-width="1.0"/>
<line x1="1273.5" y1="1005" x2="1278.3" y2="1011.7" stroke="#151515" stroke-width="1.0"/>
<polygon points="1254.2,980.8 1261.12,986.86 1258.08,989.14" fill="#151515"/>
<polygon points="1278.3,1011.7 1271.38,1005.64 1274.42,1003.36" fill="#151515"/>
<text x="1262.1" y="1002.2" text-anchor="middle" font-family="Liberation Sans" font-weight="bold" font-size="17.73" fill="#000" stroke="#000" stroke-width="0.3">3</text>
<line x1="1269" y1="993.9" x2="1269.7" y2="990" stroke="#000" stroke-width="1.3"/>
<line x1="1272.4" y1="993.9" x2="1273.1" y2="990" stroke="#000" stroke-width="1.3"/>
<circle cx="1253.3" cy="1090.8" r="5.6" fill="none" stroke="#000" stroke-width="1.3"/>
<line x1="1248.26" y1="1098.36" x2="1258.34" y2="1083.24" stroke="#000" stroke-width="1.3"/>
<text x="1272.6" y="1096.75" text-anchor="middle" font-family="Liberation Sans" font-weight="bold" font-size="17.08" fill="#000" stroke="#000" stroke-width="0.3">0</text>
<rect x="1283.03" y="1093.75" width="3" height="3" fill="#000"/>
<text x="1296.46" y="1096.75" text-anchor="middle" font-family="Liberation Sans" font-weight="bold" font-size="17.08" fill="#000" stroke="#000" stroke-width="0.3">5</text>
<text x="1308.39" y="1096.75" text-anchor="middle" font-family="Liberation Sans" font-weight="bold" font-size="17.08" fill="#000" stroke="#000" stroke-width="0.3">3</text>
<line x1="1315.8" y1="1088.9" x2="1316.5" y2="1085" stroke="#000" stroke-width="1.3"/>
<line x1="1319.2" y1="1088.9" x2="1319.9" y2="1085" stroke="#000" stroke-width="1.3"/>
<line x1="1275.8" y1="1102.5" x2="1240" y2="1160" stroke="#151515" stroke-width="1.0"/>
<polygon points="1263.1,1123 1266.41,1114.44 1269.45,1116.37" fill="#151515"/>
<polygon points="1255.3,1136.7 1251.99,1145.26 1248.95,1143.33" fill="#151515"/>
<line x1="1142.5" y1="1131.3" x2="1170" y2="1095.8" stroke="#151515" stroke-width="1.0"/>
<line x1="1230" y1="1196.7" x2="1257.5" y2="1161.7" stroke="#151515" stroke-width="1.0"/>
<line x1="1148.3" y1="1127.5" x2="1175" y2="1146.7" stroke="#151515" stroke-width="1.0"/>
<line x1="1205.8" y1="1170" x2="1233.3" y2="1191.7" stroke="#151515" stroke-width="1.0"/>
<polygon points="1148.3,1127.5 1157.5,1131.9 1155.1,1135.1" fill="#151515"/>
<polygon points="1233.3,1191.7 1224.1,1187.3 1226.5,1184.1" fill="#151515"/>
<text x="1186.7" y="1164.8" text-anchor="middle" font-family="Liberation Sans" font-weight="bold" font-size="17.15" fill="#000" stroke="#000" stroke-width="0.3">8</text>
<line x1="1193.4" y1="1156.9" x2="1194.1" y2="1153" stroke="#000" stroke-width="1.3"/>
<line x1="1196.8" y1="1156.9" x2="1197.5" y2="1153" stroke="#000" stroke-width="1.3"/>
<text x="1149.22" y="1250.8" font-family="Liberation Mono" font-weight="bold" font-size="17.61" textLength="166.57" lengthAdjust="spacingAndGlyphs" fill="#000" stroke="#000" stroke-width="0.35">TOP MIDDLE PLATES</text>
<line x1="1461.5" y1="1091.7" x2="1495" y2="1091.7" stroke="#151515" stroke-width="1.05"/>
<line x1="1565" y1="1091.7" x2="1698.9" y2="1091.7" stroke="#151515" stroke-width="1.05"/>
<line x1="1461.5" y1="1173.5" x2="1698.9" y2="1173.5" stroke="#151515" stroke-width="1.05"/>
<line x1="1461.5" y1="1091.7" x2="1461.5" y2="1173.5" stroke="#151515" stroke-width="1.05"/>
<polyline points="1698.9,1091.7 1698.9,1143.8 1705.1,1147.6 1692.4,1150.9 1698.9,1153.8 1698.9,1173.5" fill="none" stroke="#151515" stroke-width="1.1" stroke-linejoin="miter"/>
<line x1="1464.2" y1="1089.2" x2="1698.9" y2="913.3" stroke="#151515" stroke-width="1.05"/>
<line x1="1599.6" y1="1091.7" x2="1698.9" y2="1017.1" stroke="#151515" stroke-width="1.05"/>
<polyline points="1698.9,913.3 1698.9,953.5 1705.1,957.3 1692.4,960.6 1698.9,963.5 1698.9,1017.1" fill="none" stroke="#151515" stroke-width="1.1" stroke-linejoin="miter"/>
<polygon points="1477.2,1152.8 1477.2,1103.6 1630.2,990.5 1654.2,1023.7 1536.3,1112.9 1681.6,1112.9 1681.6,1152.8" fill="none" stroke="#151515" stroke-width="1.05" stroke-linejoin="miter"/>
<circle cx="1541.9" cy="1132.8" r="3.6" fill="none" stroke="#151515" stroke-width="1.0"/>
<circle cx="1582.9" cy="1132.8" r="3.6" fill="none" stroke="#151515" stroke-width="1.0"/>
<circle cx="1623.8" cy="1132.8" r="3.6" fill="none" stroke="#151515" stroke-width="1.0"/>
<circle cx="1664.8" cy="1132.8" r="3.6" fill="none" stroke="#151515" stroke-width="1.0"/>
<circle cx="1563.2" cy="1066.3" r="3.6" fill="none" stroke="#151515" stroke-width="1.0"/>
<circle cx="1595.6" cy="1041.8" r="3.6" fill="none" stroke="#151515" stroke-width="1.0"/>
<circle cx="1628.9" cy="1017.1" r="3.6" fill="none" stroke="#151515" stroke-width="1.0"/>
<line x1="1434.6" y1="1046.4" x2="1474.6" y2="1099.6" stroke="#151515" stroke-width="1.0"/>
<line x1="1586.3" y1="934.6" x2="1626.2" y2="986.5" stroke="#151515" stroke-width="1.0"/>
<line x1="1438.1" y1="1053.8" x2="1498.5" y2="1009.1" stroke="#151515" stroke-width="1.0"/>
<line x1="1531.8" y1="983.8" x2="1590.3" y2="939.9" stroke="#151515" stroke-width="1.0"/>
<polygon points="1438.1,1053.8 1444.9,1046.2 1447.3,1049.4" fill="#151515"/>
<polygon points="1590.3,939.9 1583.5,947.5 1581.1,944.3" fill="#151515"/>
<text x="1504.4" y="1002.3" text-anchor="middle" font-family="Liberation Sans" font-weight="bold" font-size="17.73" fill="#000" stroke="#000" stroke-width="0.3">1</text>
<text x="1516.2" y="1002.3" text-anchor="middle" font-family="Liberation Sans" font-weight="bold" font-size="17.73" fill="#000" stroke="#000" stroke-width="0.3">4</text>
<line x1="1523.3" y1="994" x2="1524" y2="990.1" stroke="#000" stroke-width="1.3"/>
<line x1="1526.7" y1="994" x2="1527.4" y2="990.1" stroke="#000" stroke-width="1.3"/>
<polyline points="1725.07,1034.52 1724.02,1032.27 1722.93,1030.05 1721.8,1027.84 1720.63,1025.65 1719.42,1023.48 1718.17,1021.34 1716.89,1019.22 1715.57,1017.12 1714.21,1015.04 1712.81,1012.99 1711.37,1010.97 1709.9,1008.97" fill="none" stroke="#151515" stroke-width="1.0" stroke-linejoin="miter"/>
<polyline points="1737.48,1091.7 1737.46,1089.25 1737.39,1086.81 1737.28,1084.36 1737.13,1081.92 1736.94,1079.48 1736.7,1077.05 1736.42,1074.62 1736.09,1072.19 1735.73,1069.77 1735.32,1067.36 1734.86,1064.96 1734.37,1062.56" fill="none" stroke="#151515" stroke-width="1.0" stroke-linejoin="miter"/>
<polygon points="1709.9,1008.97 1716.59,1015.29 1713.46,1017.45" fill="#151515"/>
<polygon points="1737.48,1091.7 1735.23,1082.78 1739.03,1082.63" fill="#151515"/>
<line x1="1704.2" y1="1010.4" x2="1714.8" y2="1002.4" stroke="#151515" stroke-width="1.0"/>
<line x1="1704.7" y1="1091.6" x2="1744.1" y2="1091.6" stroke="#151515" stroke-width="1.0"/>
<text x="1701.3" y="1055.4" text-anchor="middle" font-family="Liberation Sans" font-weight="bold" font-size="18.31" fill="#000" stroke="#000" stroke-width="0.3">3</text>
<text x="1713.45" y="1055.4" text-anchor="middle" font-family="Liberation Sans" font-weight="bold" font-size="18.31" fill="#000" stroke="#000" stroke-width="0.3">6</text>
<rect x="1724.1" y="1052.4" width="3" height="3" fill="#000"/>
<text x="1737.75" y="1055.4" text-anchor="middle" font-family="Liberation Sans" font-weight="bold" font-size="18.31" fill="#000" stroke="#000" stroke-width="0.3">8</text>
<text x="1749.9" y="1055.4" text-anchor="middle" font-family="Liberation Sans" font-weight="bold" font-size="18.31" fill="#000" stroke="#000" stroke-width="0.3">7</text>
<circle cx="1757.5" cy="1044.3" r="1.3" fill="none" stroke="#000" stroke-width="0.9"/>
<line x1="1687.4" y1="1112.9" x2="1733.5" y2="1112.9" stroke="#151515" stroke-width="1.0"/>
<line x1="1687.4" y1="1152.8" x2="1733.5" y2="1152.8" stroke="#151515" stroke-width="1.0"/>
<line x1="1726.5" y1="1112.9" x2="1726.5" y2="1124" stroke="#151515" stroke-width="1.0"/>
<line x1="1726.5" y1="1142" x2="1726.5" y2="1152.8" stroke="#151515" stroke-width="1.0"/>
<polygon points="1726.5,1112.9 1728.3,1121.9 1724.7,1121.9" fill="#151515"/>
<polygon points="1726.5,1152.8 1724.7,1143.8 1728.3,1143.8" fill="#151515"/>
<text x="1722.4" y="1138.9" text-anchor="middle" font-family="Liberation Sans" font-weight="bold" font-size="17.88" fill="#000" stroke="#000" stroke-width="0.3">3</text>
<line x1="1729.6" y1="1130.5" x2="1730.3" y2="1126.6" stroke="#000" stroke-width="1.3"/>
<line x1="1733" y1="1130.5" x2="1733.7" y2="1126.6" stroke="#000" stroke-width="1.3"/>
<line x1="1477.2" y1="1159.4" x2="1477.2" y2="1208.7" stroke="#151515" stroke-width="1.0"/>
<line x1="1681.6" y1="1159.4" x2="1681.6" y2="1208.7" stroke="#151515" stroke-width="1.0"/>
<line x1="1477.2" y1="1202.6" x2="1557" y2="1202.6" stroke="#151515" stroke-width="1.0"/>
<line x1="1601" y1="1202.6" x2="1681.6" y2="1202.6" stroke="#151515" stroke-width="1.0"/>
<polygon points="1477.2,1202.6 1487.2,1200.8 1487.2,1204.4" fill="#151515"/>
<polygon points="1681.6,1202.6 1671.6,1204.4 1671.6,1200.8" fill="#151515"/>
<text x="1569.1" y="1208.6" text-anchor="middle" font-family="Liberation Sans" font-weight="bold" font-size="18.31" fill="#000" stroke="#000" stroke-width="0.3">1</text>
<text x="1581.5" y="1208.6" text-anchor="middle" font-family="Liberation Sans" font-weight="bold" font-size="18.31" fill="#000" stroke="#000" stroke-width="0.3">5</text>
<line x1="1588.9" y1="1199.9" x2="1589.6" y2="1196" stroke="#000" stroke-width="1.3"/>
<line x1="1592.3" y1="1199.9" x2="1593" y2="1196" stroke="#000" stroke-width="1.3"/>
<text x="1535.7" y="1257.9" font-family="Liberation Sans" font-weight="bold" font-size="17.44" textLength="97.8" lengthAdjust="spacingAndGlyphs" fill="#000">END&#160;&#160;PLATES</text>
<text x="677.5" y="1347.8" font-family="Liberation Sans" font-size="22.4" textLength="588" lengthAdjust="spacingAndGlyphs" fill="#000">Copyright &#169; 2022 Detailed Design and Fabrication LLC</text></g>
</svg></body></html>
